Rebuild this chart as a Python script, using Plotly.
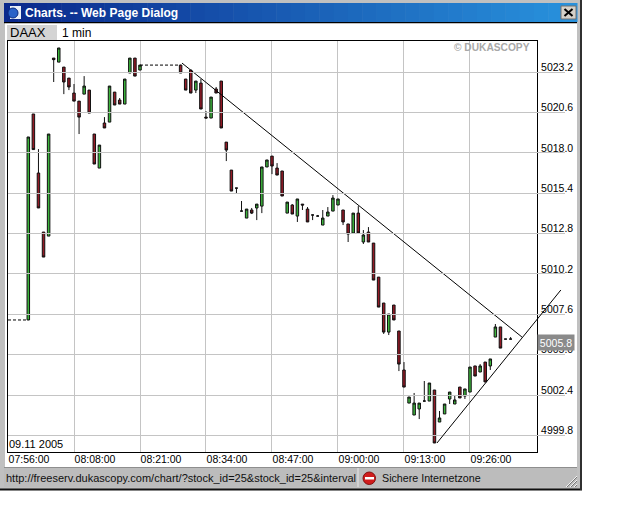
import plotly.graph_objects as go

# --- data ---------------------------------------------------------------
slot = [4,5,6,7,8,9,10,11,12,13,14,15,16,17,18,19,20,21,22,23,24,25,26,
        34,35,36,37,38,39,40,41,42,43,44,45,46,47,48,49,50,51,52,53,54,55,56,57,58,59,60,
        61,62,63,64,65,66,67,68,69,70,71,72,73,74,75,76,77,78,79,80,81,82,83,84,85,86,87,88,89,90,
        91,92,93,94,95,96,97,98,99]
open_ = [5007.24,5020.50,5016.70,5012.90,5012.64,5024.10,5023.84,5023.52,5022.81,5021.85,5021.33,5021.78,5022.04,5019.21,5017.02,5019.92,5019.98,5021.91,5021.40,5021.14,5023.14,5024.10,5023.33,
         5023.65,5022.75,5023.33,5022.04,5022.49,5020.30,5020.24,5022.11,5022.62,5018.69,5016.89,5015.73,5014.25,5013.80,5014.32,5014.45,5014.57,5017.09,5017.79,5017.02,5016.83,5014.12,5014.64,5013.93,5014.70,5014.38,5014.00,
         5013.93,5013.35,5013.93,5014.25,5014.64,5014.32,5013.42,5012.84,5014.12,5012.26,5012.90,5012.19,5010.00,5008.33,5006.46,5008.20,5006.53,5004.02,5001.89,5001.12,5001.51,5002.02,5002.02,5002.73,5000.67,5001.19,5002.15,5001.83,5002.92,5002.34,
         5002.60,5004.28,5003.89,5004.53,5004.28,5006.14,5006.79,5006.01,5006.01]
high = [5019.02,5020.50,5018.24,5012.90,5019.21,5024.10,5024.75,5023.52,5022.81,5022.43,5021.33,5022.94,5022.04,5019.21,5018.50,5020.30,5022.30,5021.91,5021.53,5022.75,5024.10,5024.10,5023.65,
        5023.65,5022.75,5023.33,5022.62,5022.75,5020.69,5021.59,5022.24,5022.62,5018.69,5016.89,5015.73,5014.90,5014.38,5014.45,5014.70,5017.09,5017.54,5017.79,5017.34,5016.83,5014.83,5014.70,5015.03,5014.70,5014.51,5014.00,
        5014.00,5014.32,5014.51,5015.28,5015.03,5014.32,5013.42,5014.12,5014.57,5013.03,5013.22,5012.19,5010.00,5008.33,5007.62,5008.20,5006.53,5004.53,5002.28,5002.54,5001.89,5003.31,5003.18,5002.73,5001.38,5001.83,5002.60,5002.41,5002.92,5002.80,
        5004.21,5004.28,5004.40,5004.53,5004.73,5006.98,5006.79,5006.01,5006.14]
low = [5007.24,5018.21,5014.45,5011.29,5012.64,5022.56,5023.84,5021.78,5022.04,5021.33,5019.21,5021.78,5020.56,5017.28,5017.02,5019.60,5019.98,5021.08,5021.14,5021.14,5023.14,5022.94,5023.33,
       5023.14,5022.04,5021.85,5021.85,5020.82,5020.24,5020.24,5021.85,5019.60,5017.47,5015.54,5015.41,5014.25,5013.80,5014.06,5013.67,5014.12,5017.09,5016.63,5016.57,5015.22,5014.12,5014.06,5013.55,5014.32,5013.55,5013.67,
       5013.93,5013.35,5013.93,5014.25,5014.64,5013.35,5012.26,5012.84,5012.84,5012.13,5012.26,5009.81,5008.07,5006.34,5006.27,5007.24,5003.95,5002.92,5001.89,5001.12,5000.86,5002.02,5002.02,4999.32,5000.67,5001.19,5001.83,5001.83,5002.22,5002.15,
       5002.60,5003.63,5003.89,5003.25,5004.02,5006.14,5005.43,5006.01,5006.01]
close = [5019.02,5018.21,5014.45,5011.29,5019.21,5024.00,5024.75,5022.56,5022.24,5021.33,5020.30,5022.30,5020.56,5017.28,5018.50,5019.60,5022.30,5021.08,5021.14,5022.75,5024.10,5022.94,5023.65,
         5023.14,5022.04,5021.85,5022.62,5020.82,5020.24,5021.59,5021.85,5019.60,5018.18,5015.54,5015.73,5014.25,5014.38,5014.12,5014.70,5017.09,5017.54,5017.15,5016.57,5015.22,5014.83,5014.06,5015.03,5014.64,5013.55,5014.00,
         5013.93,5013.80,5014.19,5015.09,5015.03,5013.55,5012.77,5014.12,5012.84,5012.71,5012.26,5009.81,5008.07,5006.46,5007.62,5007.24,5004.40,5002.92,5002.28,5001.89,5001.89,5002.02,5003.18,4999.32,5000.93,5001.83,5002.60,5002.09,5002.22,5002.80,
         5004.21,5003.63,5004.28,5003.25,5004.73,5006.79,5005.43,5006.01,5006.01]

flat_start_x = [0, 4]
flat_start_y = [5007.24, 5007.24]
flat_gap_x = [26, 34]
flat_gap_y = [5023.65, 5023.65]
resistance_x = [34.27, 101.24]
resistance_y = [5023.78, 5006.14]
support_x = [84.5, 108.9]
support_y = [4999.32, 5009.17]

x_tick_slots = [0, 13, 26, 39, 52, 65, 78, 91]
x_tick_labels = ["07:56:00", "08:08:00", "08:21:00", "08:34:00", "08:47:00", "09:00:00", "09:13:00", "09:26:00"]
y_ticks = [5023.2, 5020.6, 5018.0, 5015.4, 5012.8, 5010.2, 5007.6, 5005.0, 5002.4, 4999.8]
y_tick_labels = ["5023.2", "5020.6", "5018.0", "5015.4", "5012.8", "5010.2", "5007.6", "5005.0", "5002.4", "4999.8"]
last_price = 5005.8

# --- layout helpers -----------------------------------------------------
W, H = 640, 512
FONT = "Liberation Sans"
GREEN, RED = "#3cb43c", "#941a26"
CHROME = "#c0c0c0"


def px(v):
    return v / W


def py(v):
    return 1 - v / H


def rect(x0, y0, x1, y1, fill, line=None):
    return dict(type="rect", xref="paper", yref="paper", layer="below", x0=px(x0), x1=px(x1), y0=py(y0), y1=py(y1),
                fillcolor=fill, line=dict(color=line or fill, width=1 if line else 0))


def seg(x0, y0, x1, y1, color, width=1):
    return dict(type="line", xref="paper", yref="paper", layer="below", x0=px(x0), x1=px(x1), y0=py(y0), y1=py(y1),
                line=dict(color=color, width=width))


def disc(x0, y0, x1, y1, fill, line):
    return dict(type="circle", xref="paper", yref="paper", layer="below", x0=px(x0), x1=px(x1), y0=py(y1), y1=py(y0),
                fillcolor=fill, line=dict(color=line, width=1))


def label(x, y, text, size=11, color="black", anchor="left"):
    return dict(xref="paper", yref="paper", x=px(x), y=py(y), text=text, showarrow=False,
                xanchor=anchor, yanchor="middle", font=dict(family=FONT, size=size, color=color))


shapes = [
    rect(0, 0, 581, 490, CHROME),
    seg(0, 489.5, 582, 489.5, "#101010", 2),
    seg(581, 0, 581, 490, "#303030", 2),
    rect(5, 23, 577, 467, "white"),
    rect(7, 25, 57, 40, "#d4d4d4"),
    rect(4, 467, 577, 487, "#bcbcbc"),
    seg(4, 467.5, 577, 467.5, "#8e8e8e"),
    seg(358, 468, 358, 487, "#e8e8e8"),
    seg(4, 22.5, 577, 22.5, "#000000", 1.5),
]
# title bar gradient
STRIPS = 40
c0, c1 = (10, 40, 140), (40, 145, 220)
for i in range(STRIPS):
    t = i / (STRIPS - 1)
    col = "rgb(%d,%d,%d)" % tuple(round(a + (b - a) * t) for a, b in zip(c0, c1))
    shapes.append(rect(4 + i * 573 / STRIPS, 3, 4 + (i + 1) * 573 / STRIPS + 0.5, 22, col))
shapes += [
    rect(561, 6, 576, 19, "#d4d0c8", "#707070"),
    seg(564.5, 9, 572.5, 16, "black", 2),
    seg(572.5, 9, 564.5, 16, "black", 2),
    rect(10, 6, 21, 19, "#e8eef8"),
    disc(8, 8, 18, 18, "#2a62c8", "#0a2a80"),
    disc(363, 472, 375.5, 484.5, "#d01c1c", "#801010"),
    rect(365, 477, 374, 479.5, "white"),
    seg(566, 487, 577, 476, "#f4f4f4", 1), seg(567, 487, 577, 477, "#777777", 1),
    seg(570, 487, 577, 480, "#f4f4f4", 1), seg(571, 487, 577, 481, "#777777", 1),
    seg(574, 487, 577, 484, "#f4f4f4", 1), seg(575, 487, 577, 485, "#777777", 1),
]

annotations = [
    label(23, 13, "<b>Charts. -- Web Page Dialog</b>", size=12, color="white"),
    label(8, 32.5, "DAAX", size=13),
    label(60, 32.5, "1 min", size=12),
    label(452, 47.5, "<b>© DUKASCOPY</b>", size=10.2, color="#a8a8a8"),
    label(7, 444, "09.11 2005", size=11),
    label(4, 478, "http://freeserv.dukascopy.com/chart/?stock_id=25&stock_id=25&interval", size=11, color="#101010"),
    label(380, 478, "Sichere Internetzone", size=10.7, color="#101010"),
    dict(xref="paper", yref="y", x=px(556), y=last_price, text=str(last_price), showarrow=False,
         xanchor="center", yanchor="middle", bgcolor="#8a8a8a", borderpad=1, width=34, height=13,
         font=dict(family=FONT, size=10.5, color="white")),
]

fig = go.Figure()
fig.add_trace(go.Candlestick(
    x=slot, open=open_, high=high, low=low, close=close,
    increasing=dict(fillcolor=GREEN, line=dict(color="#101010", width=1)),
    decreasing=dict(fillcolor=RED, line=dict(color="#101010", width=1)),
    whiskerwidth=0, showlegend=False, hoverinfo="skip"))
for xs, ys in ((flat_start_x, flat_start_y), (flat_gap_x, flat_gap_y)):
    fig.add_trace(go.Scatter(x=xs, y=ys, mode="lines", showlegend=False, hoverinfo="skip",
                             line=dict(color="black", width=1, dash="3px,2px")))
fig.add_trace(go.Scatter(x=resistance_x, y=resistance_y, mode="lines", showlegend=False, hoverinfo="skip",
                         line=dict(color="black", width=1)))
# the support line runs past the plot frame, so it sits on a hidden, wider axis of the same scale
fig.add_trace(go.Scatter(x=support_x, y=support_y, xaxis="x2", yaxis="y", mode="lines", showlegend=False,
                         hoverinfo="skip", line=dict(color="black", width=1)))

SLOT_RANGE = 104.2
X_RIGHT = 537
X_LEFT = 8
slot_px = (X_RIGHT - X_LEFT) / SLOT_RANGE
WIDE_RIGHT = 565

axis_font = dict(family=FONT, size=10.5, color="black")
fig.update_layout(
    width=W, height=H, autosize=False, margin=dict(l=0, r=0, t=0, b=0, pad=0),
    paper_bgcolor="white", plot_bgcolor="rgba(0,0,0,0)", showlegend=False,
    shapes=shapes, annotations=annotations,
    xaxis=dict(domain=[px(X_LEFT), px(X_RIGHT)], range=[0, SLOT_RANGE], rangeslider=dict(visible=False),
               tickmode="array", tickvals=x_tick_slots, ticktext=x_tick_labels, ticks="", tickfont=axis_font,
               ticklabelshift=21, ticklabelstandoff=-3,
               showgrid=True, gridcolor="#c4c4c4", gridwidth=1, zeroline=False,
               showline=True, linecolor="black", linewidth=1, mirror=True),
    xaxis2=dict(domain=[px(X_LEFT), px(WIDE_RIGHT)], range=[0, (WIDE_RIGHT - X_LEFT) / slot_px],
                anchor="y", visible=False, showgrid=False, zeroline=False),
    yaxis=dict(domain=[py(452), py(41)], range=[4998.74, 5025.2], side="right",
               tickmode="array", tickvals=y_ticks, ticktext=y_tick_labels, ticks="", tickfont=axis_font,
               ticklabelshift=-5, ticklabelstandoff=1,
               showgrid=True, gridcolor="#c4c4c4", gridwidth=1, zeroline=False,
               showline=True, linecolor="black", linewidth=1, mirror=True),
)
fig.write_html("out.html", config=dict(displayModeBar=False),
               post_script="document.body.style.margin='0';document.body.style.overflow='hidden';")
